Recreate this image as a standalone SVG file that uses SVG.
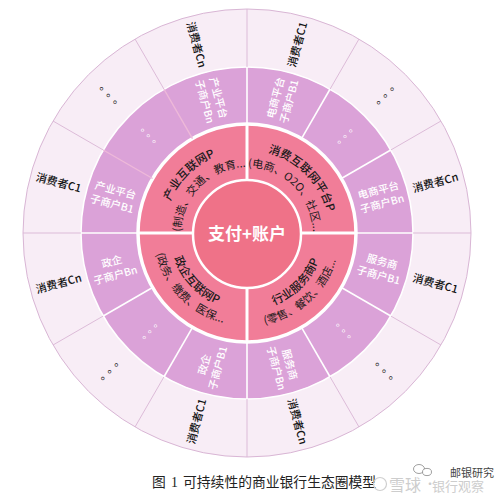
<svg xmlns="http://www.w3.org/2000/svg" width="500" height="494" viewBox="0 0 500 494">
<style>
  text { font-family: "Noto Sans CJK SC", "Noto Sans", sans-serif; }
  .outer { font-size: 11px; fill: #151515; font-weight: 500; text-anchor: middle; }
  .odots { font-size: 11px; fill: #222; text-anchor: middle; letter-spacing: 4px; }
  .mid { font-size: 10.5px; fill: #ffffff; font-weight: 500; text-anchor: middle; }
  .mdots { font-size: 10px; fill: #ffffff; text-anchor: middle; letter-spacing: 3px; }
  .ttl { font-size: 11.5px; fill: #1a1a1a; font-weight: 500; }
  .sub { font-size: 11px; fill: #1a1a1a; }
  .core { font-size: 17px; font-weight: bold; fill: #ffffff; text-anchor: middle; }
  .cap { font-family: "Liberation Serif", "Noto Sans CJK SC", serif; font-size: 13.8px; fill: #222; }
  .ol { stroke: #d9b6d5; stroke-width: 0.9; }
  .ml { stroke: #ffffff; stroke-width: 1.6; }
  .mlp { stroke: #eeb9d9; stroke-width: 1.4; }
  .pl { stroke: #ffffff; stroke-width: 3; }
</style>
<defs>
  <path id="pTL1" d="M164,233 A83,83 0 0 1 247,150"/>
  <path id="pTL2" d="M181.25,238.75 A66,66 0 0 1 252.75,167.25"/>
  <path id="pTR1" d="M247,150 A83,83 0 0 1 330,233"/>
  <path id="pTR2" d="M241.25,167.25 A66,66 0 0 1 312.75,238.75"/>
  <path id="pBL1" d="M170,233 A77,77 0 0 0 247,310"/>
  <path id="pBL2" d="M154.35,224.9 A93,93 0 0 0 255.1,325.65"/>
  <path id="pBR1" d="M247,310 A77,77 0 0 0 324,233"/>
  <path id="pBR2" d="M238.9,325.65 A93,93 0 0 0 339.65,224.9"/>
</defs>

<g id="rings">
  <circle cx="247" cy="233" r="224" fill="#f8edf6" stroke="#d9b6d5" stroke-width="1"/>
  <circle cx="247" cy="233" r="166" fill="#dba2d8" stroke="#ffffff" stroke-width="1.5"/>
  <circle cx="247" cy="233" r="109" fill="#f17d98" stroke="#ffffff" stroke-width="3.5"/>
</g>

<g id="dividers">
  <line class="ol" x1="413" y1="233" x2="471" y2="233"/>
  <line class="ol" x1="390.76" y1="150" x2="440.99" y2="121"/>
  <line class="ol" x1="330" y1="89.24" x2="359" y2="39.01"/>
  <line class="ol" x1="247" y1="67" x2="247" y2="9"/>
  <line class="ol" x1="164" y1="89.24" x2="135" y2="39.01"/>
  <line class="ol" x1="103.24" y1="150" x2="53.01" y2="121"/>
  <line class="ol" x1="81" y1="233" x2="23" y2="233"/>
  <line class="ol" x1="103.24" y1="316" x2="53.01" y2="345"/>
  <line class="ol" x1="164" y1="376.76" x2="135" y2="426.99"/>
  <line class="ol" x1="247" y1="399" x2="247" y2="457"/>
  <line class="ol" x1="330" y1="376.76" x2="359" y2="426.99"/>
  <line class="ol" x1="390.76" y1="316" x2="440.99" y2="345"/>

  <line class="ml" x1="356" y1="233" x2="413" y2="233"/>
  <line class="ml" x1="341.40" y1="178.5" x2="390.76" y2="150"/>
  <line class="ml" x1="301.5" y1="138.60" x2="330" y2="89.24"/>
  <line class="ml" x1="247" y1="124" x2="247" y2="67"/>
  <line class="mlp" x1="192.5" y1="138.60" x2="164" y2="89.24"/>
  <line class="mlp" x1="152.60" y1="178.5" x2="103.24" y2="150"/>
  <line class="ml" x1="138" y1="233" x2="81" y2="233"/>
  <line class="ml" x1="152.60" y1="287.5" x2="103.24" y2="316"/>
  <line class="ml" x1="192.5" y1="327.40" x2="164" y2="376.76"/>
  <line class="ml" x1="247" y1="342" x2="247" y2="399"/>
  <line class="ml" x1="301.5" y1="327.40" x2="330" y2="376.76"/>
  <line class="ml" x1="341.40" y1="287.5" x2="390.76" y2="316"/>

  <line class="pl" x1="301" y1="233" x2="356" y2="233"/>
  <line class="pl" x1="247" y1="179" x2="247" y2="124"/>
  <line class="pl" x1="193" y1="233" x2="138" y2="233"/>
  <line class="pl" x1="247" y1="287" x2="247" y2="342"/>
</g>

<g id="core">
  <circle cx="247" cy="234" r="54" fill="#ef7288" stroke="#ffffff" stroke-width="2.5"/>
  <text class="core" x="247" y="240">支付+账户</text>
</g>

<g id="p-industry">
  <text class="ttl"><textPath href="#pTL1" startOffset="50%" text-anchor="middle">产业互联网P</textPath></text>
  <text class="sub"><textPath href="#pTL2" startOffset="50%" text-anchor="middle">(制造、交通、教育...</textPath></text>
</g>
<g id="p-consumer">
  <text class="ttl"><textPath href="#pTR1" startOffset="50%" text-anchor="middle">消费互联网平台P</textPath></text>
  <text class="sub"><textPath href="#pTR2" startOffset="50%" text-anchor="middle">(电商、O2O、社区...</textPath></text>
</g>
<g id="p-government">
  <text class="ttl"><textPath href="#pBL1" startOffset="48%" text-anchor="middle">政企互联网P</textPath></text>
  <text class="sub"><textPath href="#pBL2" startOffset="49%" text-anchor="middle">(政务、缴费、医保...</textPath></text>
</g>
<g id="p-service">
  <text class="ttl"><textPath href="#pBR1" startOffset="50%" text-anchor="middle">行业服务商P</textPath></text>
  <text class="sub"><textPath href="#pBR2" startOffset="47%" text-anchor="middle">(零售、餐饮、酒店...</textPath></text>
</g>

<g id="b-ecom-n"><text class="mid" transform="translate(380.3,197.28) rotate(-15)"><tspan x="0" y="-3.5">电商平台</tspan><tspan x="0" y="10.5">子商户Bn</tspan></text></g>
<g id="b-ecom-dots"><text class="mdots" transform="translate(344.58,135.42) rotate(-45)" x="4" y="2">。。。</text></g>
<g id="b-ecom-1"><text class="mid" transform="translate(282.72,99.7) rotate(-75)"><tspan x="0" y="-3.5">电商平台</tspan><tspan x="0" y="10.5">子商户B1</tspan></text></g>
<g id="b-ind-n"><text class="mid" transform="translate(211.28,99.7) rotate(75)"><tspan x="0" y="-3.5">产业平台</tspan><tspan x="0" y="10.5">子商户Bn</tspan></text></g>
<g id="b-ind-dots"><text class="mdots" transform="translate(149.42,135.42) rotate(45)" x="4" y="2">。。。</text></g>
<g id="b-ind-1"><text class="mid" transform="translate(113.7,197.28) rotate(15)"><tspan x="0" y="-3.5">产业平台</tspan><tspan x="0" y="10.5">子商户B1</tspan></text></g>
<g id="b-gov-n"><text class="mid" transform="translate(113.7,268.72) rotate(-15)"><tspan x="0" y="-3.5">政企</tspan><tspan x="0" y="10.5">子商户Bn</tspan></text></g>
<g id="b-gov-dots"><text class="mdots" transform="translate(149.42,330.58) rotate(-45)" x="4" y="2">。。。</text></g>
<g id="b-gov-1"><text class="mid" transform="translate(211.28,366.3) rotate(-75)"><tspan x="0" y="-3.5">政企</tspan><tspan x="0" y="10.5">子商户B1</tspan></text></g>
<g id="b-svc-n"><text class="mid" transform="translate(282.72,366.3) rotate(75)"><tspan x="0" y="-3.5">服务商</tspan><tspan x="0" y="10.5">子商户Bn</tspan></text></g>
<g id="b-svc-dots"><text class="mdots" transform="translate(344.58,330.58) rotate(45)" x="4" y="2">。。。</text></g>
<g id="b-svc-1"><text class="mid" transform="translate(380.3,268.72) rotate(15)"><tspan x="0" y="-3.5">服务商</tspan><tspan x="0" y="10.5">子商户B1</tspan></text></g>

<g id="c-1"><text class="outer" transform="translate(435.36,182.53) rotate(-15)" y="4">消费者Cn</text></g>
<g id="c-2"><text class="odots" transform="translate(384.89,95.11) rotate(-45)" x="5" y="2">。。。</text></g>
<g id="c-3"><text class="outer" transform="translate(297.47,44.64) rotate(-75)" y="4">消费者C1</text></g>
<g id="c-4"><text class="outer" transform="translate(196.53,44.64) rotate(75)" y="4">消费者Cn</text></g>
<g id="c-5"><text class="odots" transform="translate(109.11,95.11) rotate(45)" x="5" y="2">。。。</text></g>
<g id="c-6"><text class="outer" transform="translate(58.64,182.53) rotate(15)" y="4">消费者C1</text></g>
<g id="c-7"><text class="outer" transform="translate(58.64,283.47) rotate(-15)" y="4">消费者Cn</text></g>
<g id="c-8"><text class="odots" transform="translate(109.11,370.89) rotate(-45)" x="5" y="2">。。。</text></g>
<g id="c-9"><text class="outer" transform="translate(196.53,421.36) rotate(-75)" y="4">消费者C1</text></g>
<g id="c-10"><text class="outer" transform="translate(297.47,421.36) rotate(75)" y="4">消费者Cn</text></g>
<g id="c-11"><text class="odots" transform="translate(384.89,370.89) rotate(45)" x="5" y="2">。。。</text></g>
<g id="c-12"><text class="outer" transform="translate(435.36,283.47) rotate(15)" y="4">消费者C1</text></g>

<g id="caption">
  <text class="cap" y="487"><tspan x="152">图</tspan><tspan x="171">1</tspan><tspan x="183">可持续性的商业银行生态圈模型</tspan></text>
</g>

<g id="watermark">
  <circle cx="380" cy="484" r="6.5" fill="none" stroke="#cfcfcf" stroke-width="1.2"/>
  <text x="389" y="491" style="font-size:16px; fill:#cdcdcd;">雪球</text>
  <text x="424" y="489" style="font-size:12px; fill:#cdcdcd;">·</text>
  <text x="432" y="491" style="font-size:13px; fill:#cdcdcd;">银行观察</text>
  <ellipse cx="419" cy="469" rx="5.5" ry="4.5" fill="#ffffff" stroke="#888" stroke-width="0.8"/>
  <ellipse cx="427" cy="472" rx="4.5" ry="3.6" fill="#ffffff" stroke="#888" stroke-width="0.8"/>
  <text x="450" y="477" style="font-size:11px; fill:#444;">邮银研究</text>
</g>
</svg>
